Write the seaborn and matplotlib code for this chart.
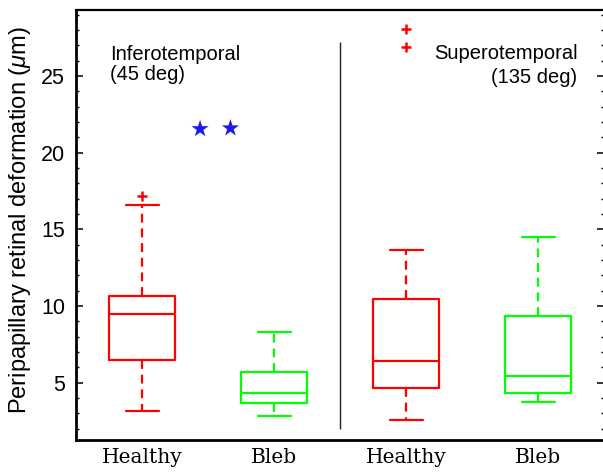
import numpy as np
import pandas as pd
import matplotlib
matplotlib.use("Agg")
import matplotlib.pyplot as plt
from matplotlib.ticker import MultipleLocator
import seaborn as sns

# ---- data ----
positions = [1, 2, 3, 4]
groups = ["Healthy", "Bleb", "Healthy", "Bleb"]
regions = ["Inferotemporal", "Inferotemporal", "Superotemporal", "Superotemporal"]
lower_whisker = [3.17, 2.85, 2.57, 3.76]
q1 = [6.46, 3.70, 4.67, 4.33]
median = [9.46, 4.33, 6.40, 5.44]
q3 = [10.64, 5.70, 10.48, 9.35]
upper_whisker = [16.61, 8.33, 13.68, 14.52]
outliers = [[17.2], [], [26.9, 28.05], []]

star_x = [1.44, 1.67]
star_y = [21.55, 21.6]

colors = {"Healthy": "#ff0000", "Bleb": "#00ff00"}

# Build samples whose five-number summary reproduces the read values
rows = []
for p, g, lo, a, m, b, hi, outs in zip(positions, groups, lower_whisker, q1,
                                       median, q3, upper_whisker, outliers):
    sample = [lo] + [a] * 3 + [m] * 3 + [b] * 3 + [hi] + list(outs)
    for v in sample:
        rows.append({"pos": p, "group": g, "value": v})
df = pd.DataFrame(rows)

sns.set_theme(style="white")
plt.rcParams["font.family"] = ["Liberation Sans", "DejaVu Sans"]
plt.rcParams["mathtext.fontset"] = "custom"
plt.rcParams["mathtext.rm"] = "Liberation Sans"
plt.rcParams["mathtext.it"] = "Liberation Sans:italic"
plt.rcParams["text.color"] = "black"
plt.rcParams["axes.labelcolor"] = "black"
plt.rcParams["xtick.color"] = "black"
plt.rcParams["ytick.color"] = "black"

fig = plt.figure(figsize=(6.03, 4.74), dpi=100)
ax = fig.add_axes([76 / 603, 34 / 474, 528 / 603, 430 / 474])

sns.boxplot(data=df, x="pos", y="value", hue="group", palette=colors,
            native_scale=True, dodge=False, fill=False, width=0.5,
            linewidth=1.6, whis=1.5, legend=False, ax=ax,
            whiskerprops={"linestyle": (0, (4, 2.6))},
            flierprops={"marker": "+", "markersize": 7,
                        "markeredgewidth": 1.8})

sns.scatterplot(x=star_x, y=star_y, marker="*", s=170, color="#1c1ce8",
                edgecolor="none", ax=ax, legend=False)

ax.vlines(2.5, 2.0, 27.2, color="#222222", linewidth=1.0)

ax.text(0.757, 26.05, "Inferotemporal", fontsize=14.5, color="black",
        ha="left", va="baseline")
ax.text(0.757, 24.75, "(45 deg)", fontsize=14.5, color="black",
        ha="left", va="baseline")
ax.text(4.30, 26.1, "Superotemporal", fontsize=14.5, color="black",
        ha="right", va="baseline")
ax.text(4.30, 24.55, "(135 deg)", fontsize=14.5, color="black",
        ha="right", va="baseline")

ax.set_xlim(0.5, 4.5)
ax.set_ylim(1.26, 29.31)
ax.set_xticks(positions)
ax.set_xticklabels(groups, fontfamily="DejaVu Serif", fontsize=14.5)
ax.yaxis.set_major_locator(MultipleLocator(5))
ax.yaxis.set_minor_locator(MultipleLocator(1))
ax.set_yticks([5, 10, 15, 20, 25])
ax.tick_params(axis="x", length=0, pad=6, colors="black")
ax.tick_params(axis="y", which="major", direction="in", length=5, width=1.1,
               left=True, right=True, labelsize=15.5, pad=8, colors="black")
ax.tick_params(axis="y", which="minor", direction="in", length=2.2, width=1.0,
               left=True, right=True, colors="black")
ax.set_xlabel("")
ax.set_ylabel(r"Peripapillary retinal deformation ($\mu$m)", fontsize=17,
              color="black")
ax.yaxis.set_label_coords(-0.082, 0.512)

for s in ["left", "bottom", "top", "right"]:
    ax.spines[s].set_visible(True)
    ax.spines[s].set_color("black")
ax.spines["left"].set_linewidth(2.0)
ax.spines["bottom"].set_linewidth(2.0)
ax.spines["top"].set_linewidth(1.6)
ax.spines["right"].set_linewidth(1.6)

fig.savefig("out.png", dpi=100)
